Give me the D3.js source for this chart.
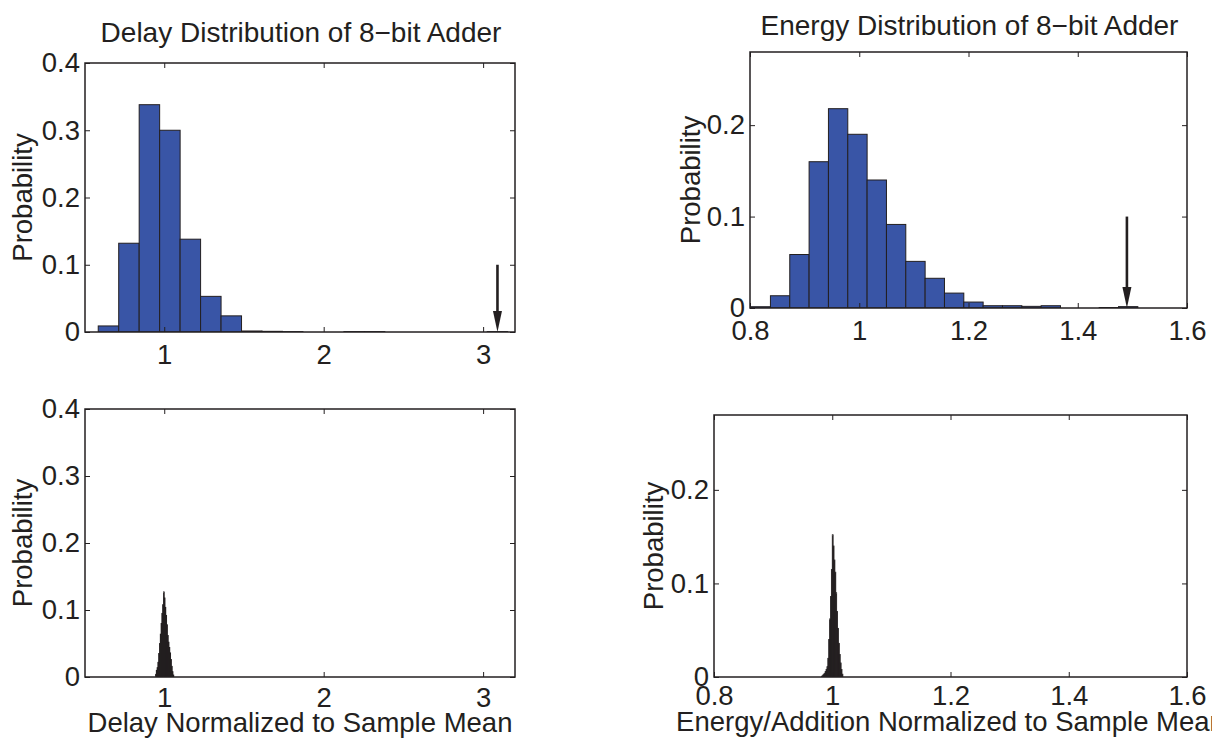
<!DOCTYPE html>
<html lang="en">
<head>
  <meta charset="UTF-8">
  <title>Delay and Energy Distribution of 8-bit Adder</title>
  <style>
    body { margin: 0; background: #fff; }
    svg text { font-family: "Liberation Sans", Arial, Helvetica, sans-serif; fill: #231f20; }
  </style>
</head>
<body>
  <div id="chart"></div>
  <script src="https://d3js.org/d3.v7.min.js"></script>
  <script>
    // ---- data ----
    // delay histogram (top left): 20 bins starting at 0.586, width 0.1284
    const delayBinStart = 0.586;
    const delayBinWidth = 0.1284;
    const delayProb = [0.009, 0.132, 0.338, 0.300, 0.138, 0.053, 0.024, 0.0015, 0.001, 0.0005,
                       0, 0, 0.0005, 0.0005, 0, 0, 0, 0, 0, 0.0005];

    // energy histogram (top right): 20 bins starting at 0.802, width 0.0354
    const energyBinStart = 0.802;
    const energyBinWidth = 0.0354;
    const energyProb = [0.0014, 0.0134, 0.0585, 0.160, 0.218, 0.190, 0.140, 0.0914, 0.051, 0.0325,
                        0.0163, 0.0065, 0.0025, 0.0025, 0.0018, 0.0025, 0, 0, 0.0005, 0.0015];

    // narrow delay spike (bottom left): bins of width 0.005 from 0.945
    const delaySpikeStart = 0.945;
    const delaySpikeWidth = 0.005;
    const delaySpikeProb = [0.004, 0.010, 0.014, 0.022, 0.035, 0.050, 0.064, 0.080, 0.095, 0.108,
                            0.127, 0.118, 0.104, 0.092, 0.078, 0.062, 0.052, 0.044, 0.036, 0.026,
                            0.016, 0.008, 0.003];

    // narrow energy spike (bottom right): bins of width 0.0015 from 0.982
    const energySpikeStart = 0.982;
    const energySpikeWidth = 0.0015;
    const energySpikeProb = [0.001, 0.002, 0.003, 0.004, 0.006, 0.008, 0.011, 0.020, 0.040, 0.062,
                             0.086, 0.115, 0.152, 0.140, 0.125, 0.112, 0.090, 0.070, 0.052, 0.036,
                             0.024, 0.015, 0.008, 0.003];

    // arrows marking the worst case
    const delayArrowX = 3.09;
    const energyArrowX = 1.49;
    const arrowTop = 0.1;

    const delayXTicks = [1, 2, 3];
    const energyXTicks = [0.8, 1, 1.2, 1.4, 1.6];
    const delayYTicks = [0, 0.1, 0.2, 0.3, 0.4];
    const energyYTicks = [0, 0.1, 0.2];

    const W = 1212, H = 740;
    const FONT = 27.5;
    const TITLE_FONT = 28;
    const BLUE = "#3955a6";
    const DARK = "#231f20";

    const svg = d3.select("#chart").append("svg")
      .attr("width", W)
      .attr("height", H);

    svg.append("rect").attr("width", W).attr("height", H).attr("fill", "#fff");

    let clipId = 0;

    function drawPanel(p) {
      const x = d3.scaleLinear().domain(p.xDomain).range([p.left, p.right]);
      const y = d3.scaleLinear().domain(p.yDomain).range([p.bottom, p.top]);
      const g = svg.append("g");

      const id = "clip" + (clipId++);
      g.append("clipPath").attr("id", id)
        .append("rect")
        .attr("x", p.left).attr("y", p.top)
        .attr("width", p.right - p.left).attr("height", p.bottom - p.top);

      // bars
      const bars = p.values.map((v, i) => ({ x0: p.binStart + i * p.binWidth, x1: p.binStart + (i + 1) * p.binWidth, v }));
      g.append("g").attr("clip-path", `url(#${id})`)
        .selectAll("rect")
        .data(bars)
        .enter()
        .append("rect")
        .attr("x", d => x(d.x0))
        .attr("width", d => x(d.x1) - x(d.x0))
        .attr("y", d => y(d.v))
        .attr("height", d => y(0) - y(d.v))
        .attr("fill", p.fill)
        .attr("stroke", p.stroke)
        .attr("stroke-width", p.strokeWidth);

      // axes with inward ticks
      const styleAxis = sel => {
        sel.select(".domain").remove();
        sel.selectAll(".tick line").attr("stroke", DARK).attr("stroke-width", 1);
        sel.selectAll("text").attr("font-size", FONT).attr("fill", DARK)
          .style("font-family", '"Liberation Sans", Arial, Helvetica, sans-serif');
      };

      g.append("g").attr("transform", `translate(0,${p.bottom})`)
        .call(d3.axisBottom(x).tickValues(p.xTicks).tickSize(-5).tickPadding(p.xPad).tickFormat(d3.format("")))
        .call(styleAxis);
      g.append("g").attr("transform", `translate(0,${p.top})`)
        .call(d3.axisTop(x).tickValues(p.xTicks).tickSize(-5).tickFormat(""))
        .call(styleAxis);
      g.append("g").attr("transform", `translate(${p.left},0)`)
        .call(d3.axisLeft(y).tickValues(p.yTicks).tickSize(-5).tickPadding(5).tickFormat(d3.format("")))
        .call(styleAxis);
      g.append("g").attr("transform", `translate(${p.right},0)`)
        .call(d3.axisRight(y).tickValues(p.yTicks).tickSize(-5).tickFormat(""))
        .call(styleAxis);

      // box
      g.append("rect")
        .attr("x", p.left).attr("y", p.top)
        .attr("width", p.right - p.left).attr("height", p.bottom - p.top)
        .attr("fill", "none").attr("stroke", DARK).attr("stroke-width", 1.5);

      // arrow
      if (p.arrowX != null) {
        const ax = x(p.arrowX);
        const ay0 = y(0);
        g.append("line")
          .attr("x1", ax).attr("x2", ax)
          .attr("y1", y(arrowTop)).attr("y2", ay0 - 16)
          .attr("stroke", DARK).attr("stroke-width", 2.6);
        g.append("path")
          .attr("d", `M${ax - 4.5},${ay0 - 21}L${ax + 4.5},${ay0 - 21}L${ax},${ay0}Z`)
          .attr("fill", DARK);
      }

      // y label
      g.append("text")
        .attr("transform", `translate(${p.ylabelX},${(p.top + p.bottom) / 2}) rotate(-90)`)
        .attr("text-anchor", "middle")
        .attr("dy", "0.35em")
        .attr("font-size", FONT)
        .text("Probability");

      if (p.title) {
        g.append("text")
          .attr("x", (p.left + p.right) / 2 + 1)
          .attr("y", p.titleY)
          .attr("text-anchor", "middle")
          .attr("font-size", TITLE_FONT)
          .text(p.title);
      }
      if (p.xlabel) {
        g.append("text")
          .attr("x", (p.left + p.right) / 2)
          .attr("y", p.xlabelY)
          .attr("text-anchor", "middle")
          .attr("font-size", FONT)
          .text(p.xlabel);
      }
    }

    drawPanel({
      left: 85, right: 515, top: 63, bottom: 332,
      xDomain: [0.503, 3.2], yDomain: [0, 0.4],
      xTicks: delayXTicks, yTicks: delayYTicks, xPad: 12,
      binStart: delayBinStart, binWidth: delayBinWidth, values: delayProb,
      fill: BLUE, stroke: DARK, strokeWidth: 1,
      arrowX: delayArrowX,
      ylabelX: 22,
      title: "Delay Distribution of 8\u2212bit Adder", titleY: 42
    });

    drawPanel({
      left: 750, right: 1187, top: 52, bottom: 308,
      xDomain: [0.8, 1.6], yDomain: [0, 0.28],
      xTicks: energyXTicks, yTicks: energyYTicks, xPad: 12,
      binStart: energyBinStart, binWidth: energyBinWidth, values: energyProb,
      fill: BLUE, stroke: DARK, strokeWidth: 1,
      arrowX: energyArrowX,
      ylabelX: 690,
      title: "Energy Distribution of 8\u2212bit Adder", titleY: 35
    });

    drawPanel({
      left: 85, right: 515, top: 409, bottom: 677,
      xDomain: [0.503, 3.2], yDomain: [0, 0.4],
      xTicks: delayXTicks, yTicks: delayYTicks, xPad: 10,
      binStart: delaySpikeStart, binWidth: delaySpikeWidth, values: delaySpikeProb,
      fill: DARK, stroke: DARK, strokeWidth: 0.8,
      ylabelX: 22,
      xlabel: "Delay Normalized to Sample Mean", xlabelY: 732
    });

    drawPanel({
      left: 714, right: 1187, top: 415, bottom: 677,
      xDomain: [0.8, 1.6], yDomain: [0, 0.28],
      xTicks: energyXTicks, yTicks: energyYTicks, xPad: 8,
      binStart: energySpikeStart, binWidth: energySpikeWidth, values: energySpikeProb,
      fill: DARK, stroke: DARK, strokeWidth: 0.8,
      ylabelX: 653,
      xlabel: "Energy/Addition Normalized to Sample Mean", xlabelY: 731
    });
  </script>
</body>
</html>
